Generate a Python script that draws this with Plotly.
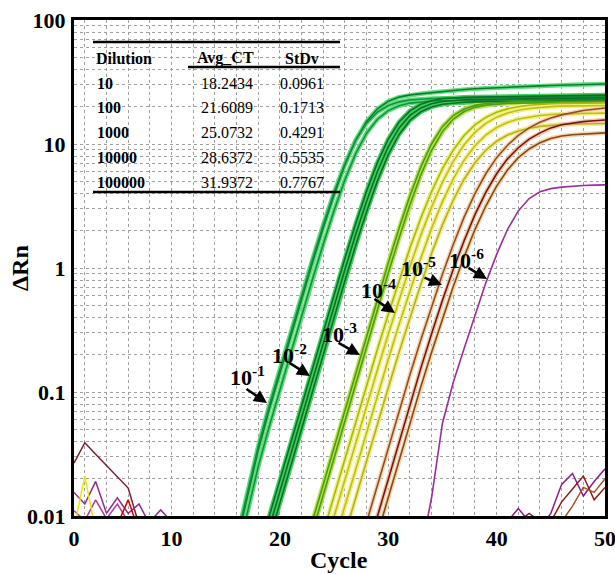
import plotly.graph_objects as go

# ---------------- data ----------------
cycles = list(range(1, 51))

# 10^-1 replicates (green)
d1_a_start = 16
d1_a = [0.006, 0.0140, 0.0340, 0.0716, 0.1429, 0.2841, 0.5622, 1.1004, 2.112, 3.906,
        6.791, 10.77, 15.23, 19.21, 22.09, 23.89, 24.90, 25.44, 26.0, 26.6, 27.1, 27.5,
        27.9, 28.2, 28.5, 28.8, 29.0, 29.2, 29.4, 29.6, 29.8, 30.0, 30.2, 30.3, 30.5]
d1_b_start = 16
d1_b = [0.0065, 0.0150, 0.0365, 0.0769, 0.1534, 0.3047, 0.6018, 1.173, 2.235, 4.082,
        6.956, 10.74, 14.74, 18.12, 20.46, 21.87, 22.66, 23.07, 23.28, 23.39, 23.45, 23.47,
        23.5, 23.55, 23.6, 23.65, 23.7, 23.75, 23.8, 23.85, 23.9, 23.95, 24.0, 24.05, 24.1]
d1_c_start = 16
d1_c = [0.0045, 0.0105, 0.0250, 0.0521, 0.1040, 0.2072, 0.4104, 0.8062, 1.557, 2.912,
        5.156, 8.389, 12.22, 15.84, 18.59, 20.36, 21.38, 21.92, 22.21, 22.35, 22.43, 22.46,
        22.5, 22.55, 22.6, 22.65, 22.7, 22.75, 22.8, 22.85, 22.9, 22.95, 23.0, 23.05, 23.1]

# 10^-2 replicates (dark green)
d2_a_start = 19
d2_a = [0.00986, 0.0197, 0.0394, 0.0786, 0.1566, 0.3112, 0.6146, 1.198, 2.283, 4.169,
        7.104, 10.96, 15.05, 18.50, 20.89, 22.34, 23.14, 23.56, 23.78, 23.89, 23.94, 23.97,
        24.05, 24.15, 24.2, 24.3, 24.4, 24.45, 24.5, 24.6, 24.7, 24.8]
d2_b_start = 19
d2_b = [0.00794, 0.01587, 0.0317, 0.0634, 0.1264, 0.2513, 0.4973, 0.9734, 1.868, 3.455,
        6.008, 9.527, 13.47, 16.99, 19.55, 21.13, 22.03, 22.50, 22.75, 22.87, 22.94, 22.97,
        23.0, 23.05, 23.1, 23.15, 23.2, 23.3, 23.35, 23.45, 23.5, 23.6]
d2_c_start = 19
d2_c = [0.00638, 0.01276, 0.0255, 0.0510, 0.1017, 0.2026, 0.4013, 0.7882, 1.523, 2.847,
        5.041, 8.203, 11.95, 15.49, 18.18, 19.91, 20.90, 21.44, 21.72, 21.86, 21.93, 21.96,
        22.0, 22.05, 22.1, 22.15, 22.2, 22.3, 22.35, 22.45, 22.5, 22.6]

# 10^-3 replicates (yellow-green)
d3_a_start = 23
d3_a = [0.00904, 0.01806, 0.0361, 0.0720, 0.1436, 0.2853, 0.5634, 1.098, 2.092, 3.821,
        6.512, 10.05, 13.80, 16.96, 19.15, 20.48, 21.21, 21.60, 21.80, 21.90, 21.95, 21.98,
        22.0, 22.05, 22.1, 22.15, 22.2, 22.25]
d3_b_start = 23
d3_b = [0.00742, 0.01484, 0.0296, 0.0592, 0.1181, 0.2350, 0.4649, 0.9099, 1.746, 3.230,
        5.616, 8.906, 12.59, 15.88, 18.27, 19.75, 20.59, 21.04, 21.27, 21.38, 21.44, 21.47,
        21.5, 21.55, 21.6, 21.65, 21.7, 21.75]

# 10^-4 replicates (yellow)
d4_a_start = 24
d4_a = [0.00737, 0.01467, 0.02915, 0.05768, 0.1134, 0.2209, 0.4241, 0.7964, 1.449, 2.520,
        4.138, 6.326, 8.949, 11.70, 14.26, 16.39, 18.02, 19.20, 20.00, 20.53, 20.88, 21.11,
        21.25, 21.34, 21.40, 21.44, 21.46]
d4_b_start = 25
d4_b = [0.00992, 0.01973, 0.03913, 0.07716, 0.1511, 0.2925, 0.5556, 1.0285, 1.8335, 3.105,
        4.927, 7.248, 9.851, 12.42, 14.67, 16.46, 17.79, 18.72, 19.35, 19.76, 20.03, 20.20,
        20.31, 20.38, 20.43, 20.45]
d4_c_start = 25
d4_c = [0.00610, 0.01214, 0.02414, 0.04776, 0.09391, 0.1829, 0.3511, 0.6593, 1.199, 2.087,
        3.426, 5.238, 7.409, 9.689, 11.81, 13.57, 14.92, 15.89, 16.55, 17.00, 17.29, 17.47,
        17.59, 17.67, 17.72, 17.75]
d4_d_start = 26
d4_d = [0.00711, 0.01415, 0.02806, 0.05533, 0.1084, 0.2097, 0.3984, 0.7375, 1.315, 2.227,
        3.533, 5.197, 7.064, 8.906, 10.52, 11.80, 12.75, 13.42, 13.87, 14.17, 14.36, 14.49,
        14.56, 14.61, 14.65]

# 10^-5 replicates (brown / dark red)
d5_a_start = 28
d5_a = [0.0089, 0.0178, 0.0355, 0.0708, 0.138, 0.263, 0.490, 0.891, 1.549, 2.570, 3.981,
        5.754, 7.762, 9.772, 11.75, 13.49, 14.96, 16.22, 17.18, 17.99, 18.62, 19.05, 19.50]
d5_b_start = 28
d5_b = [0.005, 0.0100, 0.0200, 0.0398, 0.0794, 0.155, 0.295, 0.550, 0.977, 1.660, 2.692,
        4.074, 5.754, 7.586, 9.333, 10.96, 12.30, 13.49, 14.29, 14.79, 15.14, 15.42, 15.60]
d5_c_start = 29
d5_c = [0.0071, 0.0141, 0.0282, 0.0562, 0.110, 0.209, 0.389, 0.708, 1.230, 2.042, 3.162,
        4.571, 6.166, 7.762, 9.120, 10.23, 11.09, 11.61, 11.89, 12.02, 12.16, 12.30]

# 10^-6 (purple)
d6_start = 33
d6 = [0.005, 0.0141, 0.056, 0.120, 0.224, 0.417, 0.759, 1.288, 2.042, 2.884, 3.631,
      4.121, 4.365, 4.487, 4.571, 4.624, 4.656, 4.677]

# baseline noise traces
n1_start, n1 = 1, [0.0267, 0.039, 0.0315, 0.0255, 0.0205, 0.0168, 0.0085]
n2_start, n2 = 1, [0.0155, 0.0125, 0.019, 0.0105, 0.014, 0.0105, 0.0125, 0.0085]
n3_start, n3 = 1, [0.011, 0.0092, 0.0135, 0.0095, 0.0125, 0.009]
n4_start, n4 = 1, [0.008, 0.021, 0.0075]
n5_start, n5 = 5, [0.0085, 0.0135, 0.0075]
n6_start, n6 = 8, [0.009, 0.0112, 0.009]
r1_start, r1 = 44, [0.008, 0.0105, 0.018, 0.022, 0.0145, 0.019, 0.024]
r2_start, r2 = 45, [0.009, 0.013, 0.0165, 0.021, 0.0135, 0.017]
r3_start, r3 = 46, [0.009, 0.012, 0.017, 0.0155, 0.020]
r4_start, r4 = 41, [0.009, 0.0115, 0.009]
r5_start, r5 = 42, [0.009, 0.0105, 0.009]

# table
table_dilution = [10, 100, 1000, 10000, 100000]
table_avg_ct = [18.2434, 21.6089, 25.0732, 28.6372, 31.9372]
table_stdv = [0.0961, 0.1713, 0.4291, 0.5535, 0.7767]

# curve labels
label_exponents = [-1, -2, -3, -4, -5, -6]

x_tick_vals = [1, 10, 20, 30, 40, 50]
x_tick_text = ["0", "10", "20", "30", "40", "50"]
y_tick_vals = [0.01, 0.1, 1, 10, 100]
y_tick_text = ["0.01", "0.1", "1", "10", "100"]

# ---------------- figure ----------------
FONT = "Liberation Serif, Times New Roman, serif"
W, H = 615, 574
L, R, T, B = 74, 10, 20, 58


def fx(p):
    return (p - L) / (W - L - R)


def fy(p):
    return (H - B - p) / (H - T - B)


def seg(start, vals):
    return cycles[start - 1:start - 1 + len(vals)], vals


fig = go.Figure()

amp = [
    (d1_a_start, d1_a, "#0f7a36", "#62e07e"),
    (d1_b_start, d1_b, "#12923c", "#5fdc7a"),
    (d1_c_start, d1_c, "#12923c", "#5fdc7a"),
    (d2_a_start, d2_a, "#0b6e27", "#3fcf5c"),
    (d2_b_start, d2_b, "#0b6e27", "#3fcf5c"),
    (d2_c_start, d2_c, "#0b6e27", "#3fcf5c"),
    (d3_a_start, d3_a, "#4b9d14", "#b7e24c"),
    (d3_b_start, d3_b, "#4b9d14", "#b7e24c"),
    (d4_a_start, d4_a, "#a9b814", "#eef27a"),
    (d4_b_start, d4_b, "#c2be18", "#f3f07e"),
    (d4_c_start, d4_c, "#c2be18", "#f3f07e"),
    (d4_d_start, d4_d, "#b8b020", "#f1ec86"),
    (d5_a_start, d5_a, "#9a4a22", "#f0d8b0"),
    (d5_b_start, d5_b, "#7a1212", "#ecc9a8"),
    (d5_c_start, d5_c, "#8b4513", "#f0d8b0"),
]

for s, v, core, halo in amp:
    x, y = seg(s, v)
    fig.add_trace(go.Scatter(x=x, y=y, mode="lines", line=dict(color=halo, width=4.5),
                             hoverinfo="skip"))
for s, v, core, halo in amp:
    x, y = seg(s, v)
    fig.add_trace(go.Scatter(x=x, y=y, mode="lines", line=dict(color=core, width=1.6)))

x, y = seg(d6_start, d6)
fig.add_trace(go.Scatter(x=x, y=y, mode="lines", line=dict(color="#9b2d9b", width=1.6)))

noise = [
    (n1_start, n1, "#7a1f2a"), (n2_start, n2, "#8e2a8e"), (n3_start, n3, "#b03a9a"),
    (n4_start, n4, "#e6e600"), (n5_start, n5, "#cc0000"), (n6_start, n6, "#8e2a8e"),
    (r1_start, r1, "#8b1a8b"), (r2_start, r2, "#8b1a1a"), (r3_start, r3, "#a0522d"),
    (r4_start, r4, "#8b1a8b"), (r5_start, r5, "#7a1f2a"),
]
for s, v, c in noise:
    x, y = seg(s, v)
    fig.add_trace(go.Scatter(x=x, y=y, mode="lines", line=dict(color=c, width=1.5)))

grid_col = "#a0a0a0"
minor_x = [c for c in range(2, 50, 2)]
minor_y = [m * 10 ** e for e in range(-2, 2) for m in range(2, 10)]

fig.update_layout(
    width=W, height=H, margin=dict(l=L, r=R, t=T, b=B),
    plot_bgcolor="white", paper_bgcolor="white", showlegend=False,
    xaxis=dict(range=[1, 50], tickmode="array", tickvals=x_tick_vals, ticktext=x_tick_text,
               showgrid=True, gridcolor=grid_col, griddash="dot", gridwidth=1,
               minor=dict(tickmode="array", tickvals=minor_x, showgrid=True,
                          gridcolor=grid_col, griddash="dot", gridwidth=1),
               showline=True, linecolor="black", linewidth=3, mirror=True,
               ticks="outside", ticklen=1, tickcolor="rgba(0,0,0,0)", zeroline=False,
               automargin=False, ticklabeloverflow="allow",
               tickfont=dict(family=FONT, size=22, color="black", weight="bold")),
    yaxis=dict(type="log", range=[-2, 2], tickmode="array", tickvals=y_tick_vals,
               ticktext=y_tick_text,
               showgrid=True, gridcolor=grid_col, griddash="dot", gridwidth=1,
               minor=dict(tickmode="array", tickvals=minor_y, showgrid=True,
                          gridcolor=grid_col, griddash="dot", gridwidth=1),
               showline=True, linecolor="black", linewidth=3, mirror=True,
               ticks="outside", ticklen=1, tickcolor="rgba(0,0,0,0)", zeroline=False,
               automargin=False, ticklabeloverflow="allow",
               tickfont=dict(family=FONT, size=22, color="black", weight="bold")),
)

ann = []


def text_ann(text, px, py, font, xanchor="center", angle=0):
    return dict(text=text, x=fx(px), y=fy(py), xref="paper", yref="paper", showarrow=False,
                xanchor=xanchor, yanchor="middle", textangle=angle, font=font)


# axis titles
title_font = dict(family=FONT, size=24, color="black", weight="bold")
ann.append(text_ann("ΔRn", 20, 268, title_font, angle=-90))
ann.append(text_ann("Cycle", 339, 560, title_font))

# table
tfont_b = dict(family=FONT, size=16, color="black", weight="bold")
tfont = dict(family=FONT, size=16, color="black")
ann.append(text_ann("Dilution", 94, 58, tfont_b, xanchor="left"))
ann.append(text_ann("Avg_CT", 225, 58, tfont_b))
ann.append(text_ann("StDv", 302, 58, tfont_b))
row_y = [83, 107, 132, 157, 182]
for i, (dl, ct, sd) in enumerate(zip(table_dilution, table_avg_ct, table_stdv)):
    ann.append(text_ann(str(dl), 95, row_y[i], tfont_b, xanchor="left"))
    ann.append(text_ann(f"{ct:.4f}", 227, row_y[i], tfont))
    ann.append(text_ann(f"{sd:.4f}", 302, row_y[i], tfont))

shapes = [
    dict(type="line", xref="paper", yref="paper", x0=fx(93), x1=fx(340), y0=fy(42), y1=fy(42),
         line=dict(color="black", width=2.5)),
    dict(type="line", xref="paper", yref="paper", x0=fx(188), x1=fx(340), y0=fy(67), y1=fy(67),
         line=dict(color="black", width=2.5)),
    dict(type="line", xref="paper", yref="paper", x0=fx(93), x1=fx(340), y0=fy(192), y1=fy(192),
         line=dict(color="black", width=2.5)),
]

# curve labels with arrows
label_pos = [(247, 376), (289, 354), (339, 333), (378, 289), (418, 267), (466, 259)]
arrow_tail = [(245, 388), (288, 362), (337, 342), (373, 298), (423, 277), (467, 267)]
arrow_head = [(267, 403), (310, 376), (360, 355), (395, 313), (442, 285), (487, 279)]
lfont = dict(family=FONT, size=22, color="black", weight="bold")
for e, (lx, ly), (tx, ty), (hx, hy) in zip(label_exponents, label_pos, arrow_tail, arrow_head):
    ann.append(text_ann(f"10<sup>{e}</sup>", lx, ly, lfont))
    ann.append(dict(text="", x=fx(hx), y=fy(hy), xref="paper", yref="paper", showarrow=True,
                    ax=tx - hx, ay=ty - hy, arrowhead=2, arrowsize=1, arrowwidth=2.6,
                    arrowcolor="black", standoff=0, startstandoff=0))

fig.update_layout(annotations=ann, shapes=shapes)
fig.write_html(
    "out.html",
    config={"displayModeBar": False},
    post_script="document.body.style.margin='0';document.body.style.overflow='hidden';",
)
